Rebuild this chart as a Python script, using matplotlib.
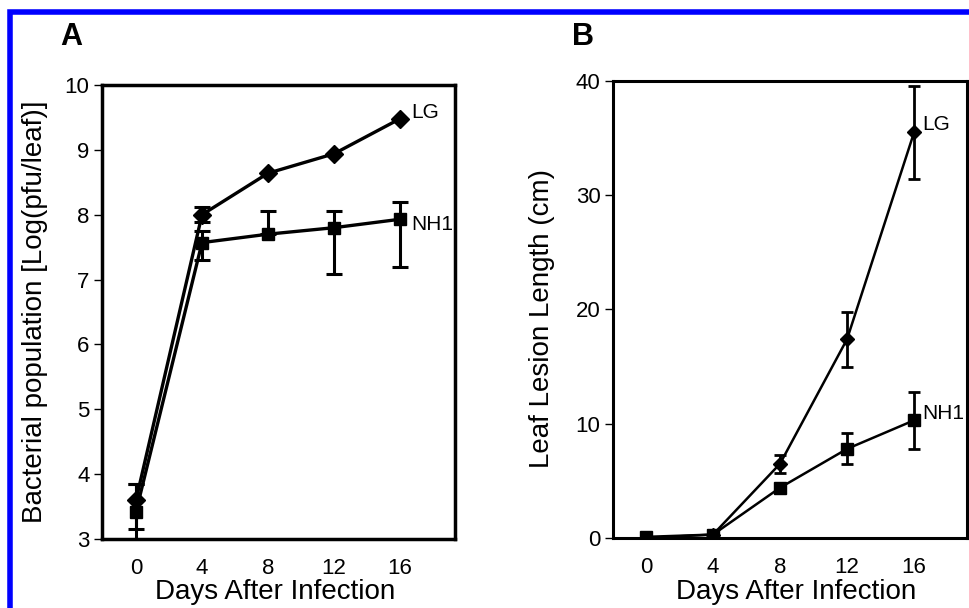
import matplotlib
matplotlib.use("Agg")
import matplotlib.pyplot as plt
from matplotlib.patches import Rectangle

plt.rcParams['font.family'] = ['Liberation Sans', 'DejaVu Sans']

days = [0, 4, 8, 12, 16]
xtick_labels = ["0", "4", "8", "12", "16"]

# Panel A: bacterial population
a_lg = [3.6, 8.0, 8.64, 8.94, 9.48]
a_lg_err_lo = [0.45, 0.12, 0.0, 0.0, 0.0]
a_lg_err_hi = [0.25, 0.12, 0.0, 0.0, 0.0]
a_nh1 = [3.42, 7.57, 7.7, 7.8, 7.93]
a_nh1_err_lo = [0.45, 0.27, 0.0, 0.72, 0.74]
a_nh1_err_hi = [0.43, 0.18, 0.36, 0.26, 0.26]
a_yticks = [3, 4, 5, 6, 7, 8, 9, 10]

# Panel B: leaf lesion length
b_lg = [0.0, 0.3, 6.5, 17.4, 35.5]
b_lg_err = [0.3, 0.4, 0.8, 2.4, 4.1]
b_nh1 = [0.1, 0.3, 4.4, 7.8, 10.3]
b_nh1_err = [0.3, 0.4, 0.2, 1.35, 2.5]
b_yticks = [0, 10, 20, 30, 40]

fig = plt.figure(figsize=(9.69, 6.08), dpi=100)

# blue frame
fig.add_artist(Rectangle((10/969, -0.1), 2.0, 1.1 - 12/608, transform=fig.transFigure,
                         fill=False, edgecolor='#0000ff', linewidth=4))

axA = fig.add_axes([102/969, 1 - 539/608, 353/969, 454/608])
axB = fig.add_axes([613/969, 1 - 538/608, 354/969, 457/608])

for ax in (axA, axB):
    ax.tick_params(axis='x', length=0, labelsize=16, pad=14)
    ax.tick_params(axis='y', length=6, width=1, direction='out', labelsize=16, pad=3)
    ax.set_xticks(days)
    ax.set_xticklabels(xtick_labels)

# Panel A
lwA = 2.4
axA.errorbar(days, a_lg, yerr=[a_lg_err_lo, a_lg_err_hi], color='black', marker='D',
             markersize=9, linewidth=lwA, capsize=6, capthick=2.2, elinewidth=2.2, zorder=3)
axA.errorbar(days, a_nh1, yerr=[a_nh1_err_lo, a_nh1_err_hi], color='black', marker='s',
             markersize=9, linewidth=lwA, capsize=6, capthick=2.2, elinewidth=2.2, zorder=3)
axA.set_xlim(-2.06, 19.33)
axA.set_ylim(3, 10)
axA.set_yticks(a_yticks)
for s in axA.spines.values():
    s.set_linewidth(2.5)
axA.set_xlabel("Days After Infection", fontsize=20)
axA.xaxis.set_label_coords(0.49, -0.088)
axA.set_ylabel("Bacterial population [Log(pfu/leaf)]", fontsize=20)
axA.yaxis.set_label_coords(-0.153, 0.5)
axA.text(16.7, a_lg[-1] + 0.1, "LG", fontsize=15, ha='left', va='center')
axA.text(16.7, a_nh1[-1] - 0.08, "NH1", fontsize=15, ha='left', va='center', clip_on=False)
fig.text(60/969, 1 - 37/608, "A", fontsize=22, fontweight='bold', ha='left', va='center')

# Panel B
lwB = 1.8
axB.errorbar(days, b_lg, yerr=b_lg_err, color='black', marker='D', markersize=7,
             linewidth=lwB, capsize=4, capthick=2, elinewidth=2, zorder=3)
axB.errorbar(days, b_nh1, yerr=b_nh1_err, color='black', marker='s', markersize=8,
             linewidth=lwB, capsize=4, capthick=2, elinewidth=2, zorder=3)
axB.set_xlim(-1.97, 19.16)
axB.set_ylim(0, 40)
axB.set_yticks(b_yticks)
for s in axB.spines.values():
    s.set_linewidth(2.2)
axB.set_xlabel("Days After Infection", fontsize=20)
axB.xaxis.set_label_coords(0.517, -0.090)
axB.set_ylabel("Leaf Lesion Length (cm)", fontsize=20)
axB.yaxis.set_label_coords(-0.1635, 0.48)
axB.text(16.5, b_lg[-1] + 0.7, "LG", fontsize=15, ha='left', va='center')
axB.text(16.5, b_nh1[-1] + 0.6, "NH1", fontsize=15, ha='left', va='center')
fig.text(572/969, 1 - 37/608, "B", fontsize=22, fontweight='bold', ha='left', va='center')

fig.savefig("out.png", dpi=100)
